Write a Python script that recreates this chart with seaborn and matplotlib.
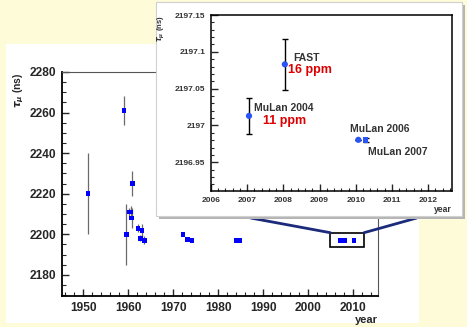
import matplotlib
matplotlib.use("Agg")
import matplotlib.pyplot as plt
from matplotlib.patches import Rectangle, ConnectionPatch
from matplotlib.ticker import MultipleLocator
import seaborn as sns
import pandas as pd

# Main plot: all lifetime measurements
years = [1951.1, 1959.1, 1959.6, 1960.2, 1960.6, 1960.75, 1960.9, 1962.2, 1962.7,
         1963.1, 1963.6, 1972.2, 1973.2, 1974.2, 1984.1, 1984.8, 2007.1, 2008.1, 2010.2]
tau = [2220, 2261, 2200, 2211, 2211, 2208, 2225, 2203, 2198,
       2202, 2197, 2200, 2197.5, 2197, 2197, 2197, 2197.0, 2197.1, 2197.0]
tau_err = [20, 7, 15, 2, 3, 5, 6, 2, 1.5, 3, 2, 0.5, 0.3, 0.3, 0.1, 0.1, 0.02, 0.035, 0.002]

# Inset: recent precision measurements
inset_names = ["MuLan 2004", "FAST", "MuLan 2006", "MuLan 2007"]
inset_years = [2007.05, 2008.04, 2010.07, 2010.27]
inset_tau = [2197.013, 2197.083, 2196.9805, 2196.9805]
inset_err = [0.024, 0.035, 0.0, 0.0025]
inset_ppm = ["11 ppm", "16 ppm"]

sns.set_style("ticks")
plt.rcParams["font.family"] = ["Liberation Sans", "DejaVu Sans"]
plt.rcParams["font.weight"] = "bold"

W, H = 467, 327
fig = plt.figure(figsize=(W / 100, H / 100), dpi=100, facecolor="#fefbd9")

def fx(px):
    return px / W

def fy(py):
    return 1 - py / H

# white panel behind main plot
fig.add_artist(Rectangle((fx(6), fy(323)), fx(419) - fx(6), fy(44) - fy(323),
                         transform=fig.transFigure, facecolor="white", edgecolor="none", zorder=0))

ax = fig.add_axes([fx(62), fy(296), fx(378) - fx(62), fy(72) - fy(296)], zorder=1)
df = pd.DataFrame({"year": years, "tau": tau, "err": tau_err})
ax.errorbar(df["year"], df["tau"], yerr=df["err"], fmt="none", ecolor="#6a6a6a", elinewidth=0.9)
sns.scatterplot(data=df, x="year", y="tau", ax=ax, marker="s", s=11, color="#0000ff",
                edgecolor="none", zorder=3)
ax.set_xlim(1945.3, 2015.5)
ax.set_ylim(2169.6, 2280)
ax.xaxis.set_major_locator(MultipleLocator(10))
ax.xaxis.set_minor_locator(MultipleLocator(2))
ax.yaxis.set_major_locator(MultipleLocator(20))
ax.yaxis.set_minor_locator(MultipleLocator(5))
ax.tick_params(which="both", direction="in", top=False, right=False, labelsize=8.6, pad=4)
ax.tick_params(which="major", length=5, width=1)
ax.tick_params(which="minor", length=3, width=0.8)
for lab in ax.get_xticklabels() + ax.get_yticklabels():
    lab.set_fontweight("bold")
for s in ["left", "bottom"]:
    ax.spines[s].set_linewidth(1.3)
    ax.spines[s].set_color("black")
for s in ["top", "right"]:
    ax.spines[s].set_linewidth(0.8)
    ax.spines[s].set_color("#555555")
    ax.spines[s].set_visible(True)
ax.set_xlabel("year", loc="right", fontsize=8, fontweight="bold", labelpad=1)
ax.set_ylabel(r"$\tau_{\mu}$ (ns)", loc="top", fontsize=7.5, fontweight="bold")
ax.yaxis.set_label_coords(-0.115, 1.0)

# zoom box
ax.add_patch(Rectangle((2004.9, 2193.6), 7.5, 7.2, facecolor="none", edgecolor="black",
                       linewidth=1.2, zorder=4))

# connector lines to inset
for xa, xb in [(2004.9, 250.7), (2012.4, 416.7)]:
    con = ConnectionPatch(xyA=(xa, 2200.8), coordsA=ax.transData,
                          xyB=(fx(xb), fy(218)), coordsB=fig.transFigure,
                          color="#1c2a7c", linewidth=2)
    con.set_zorder(3)
    fig.add_artist(con)

# inset panel with shadow
fig.add_artist(Rectangle((fx(159), fy(219)), fx(465) - fx(159), fy(5) - fy(219),
                         transform=fig.transFigure, facecolor="#b5b5b5", edgecolor="none", zorder=4))
fig.add_artist(Rectangle((fx(156), fy(216)), fx(462) - fx(156), fy(2) - fy(216),
                         transform=fig.transFigure, facecolor="white", edgecolor="#d0d0d0",
                         linewidth=0.8, zorder=5))

ins = fig.add_axes([fx(211), fy(191), fx(451.7) - fx(211), fy(15) - fy(191)], zorder=6)
idf = pd.DataFrame({"name": inset_names, "year": inset_years, "tau": inset_tau, "err": inset_err})
ins.errorbar(idf["year"], idf["tau"], yerr=idf["err"], fmt="none", ecolor="black",
             elinewidth=1, capsize=2.5, capthick=1)
sns.scatterplot(data=idf.iloc[:3], x="year", y="tau", ax=ins, marker="o", s=20,
                color="#2a55f5", edgecolor="none", zorder=3)
sns.scatterplot(data=idf.iloc[3:], x="year", y="tau", ax=ins, marker="s", s=16,
                color="#2a55f5", edgecolor="none", zorder=3)
ins.set_xlim(2006, 2012.65)
ins.set_ylim(2196.911, 2197.15)
ins.xaxis.set_minor_locator(MultipleLocator(0.2))
ins.yaxis.set_minor_locator(MultipleLocator(0.01))
ins.set_xticks([2006, 2007, 2008, 2009, 2010, 2011, 2012])
ins.set_xticklabels(["2006", "2007", "2008", "2009", "2010", "2011", "2012"])
ins.set_yticks([2196.95, 2197, 2197.05, 2197.1, 2197.15])
ins.set_yticklabels(["2196.95", "2197", "2197.05", "2197.1", "2197.15"])
ins.tick_params(which="both", direction="in", top=False, right=False, labelsize=6,
                labelcolor="#333333", pad=4)
ins.tick_params(which="major", length=5, width=1)
ins.tick_params(which="minor", length=2.5, width=0.8)
for lab in ins.get_xticklabels() + ins.get_yticklabels():
    lab.set_fontweight("bold")
for s in ins.spines.values():
    s.set_visible(True)
    s.set_color("black")
    s.set_linewidth(1.1)
ins.set_xlabel("year", loc="right", fontsize=6.2, fontweight="bold", color="#333333", labelpad=1)
ins.set_ylabel(r"$\tau_{\mu}$ (ns)", loc="top", fontsize=5.5, fontweight="bold",
               color="#333333", labelpad=6)

lab_kw = dict(fontsize=7.5, fontweight="bold", color="#333333", va="center", ha="left")
ins.text(2008.26, 2197.092, "FAST", **lab_kw)
ins.text(2007.19, 2197.024, "MuLan 2004", **lab_kw)
ins.text(2009.84, 2196.9955, "MuLan 2006", **lab_kw)
ins.text(2010.35, 2196.9646, "MuLan 2007", **lab_kw)
ppm_kw = dict(fontsize=9, fontweight="bold", color="#dd0000", va="center", ha="left")
ins.text(2008.13, 2197.075, inset_ppm[1], **ppm_kw)
ins.text(2007.43, 2197.0055, inset_ppm[0], **ppm_kw)

fig.savefig("out.png", dpi=100, facecolor=fig.get_facecolor())
